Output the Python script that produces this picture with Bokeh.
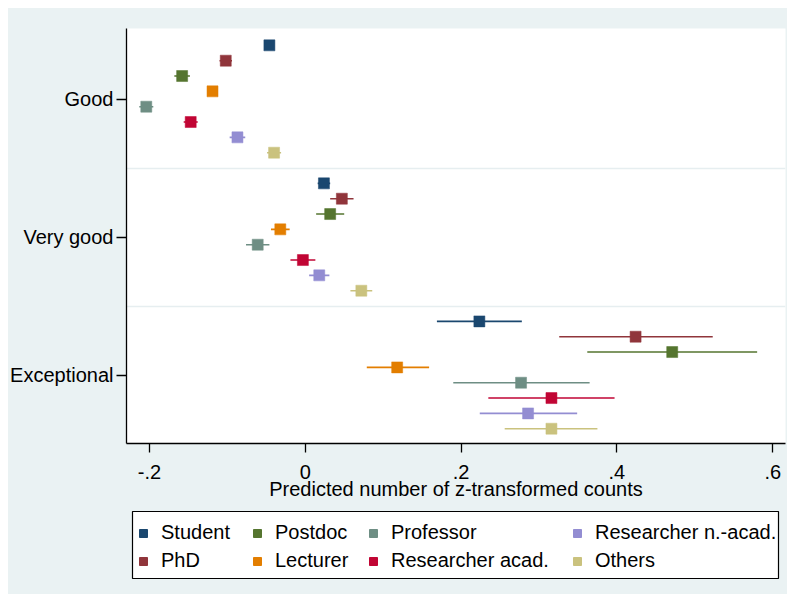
from bokeh.plotting import figure
from bokeh.layouts import column
from bokeh.models import Range1d, FixedTicker, Legend, LegendItem, ColumnDataSource
from bokeh.embed import file_html
from bokeh.resources import INLINE

groups = ["Good", "Very good", "Exceptional"]
occupations = ["Student", "PhD", "Postdoc", "Lecturer", "Professor",
               "Researcher acad.", "Researcher n.-acad.", "Others"]
colors = ["#1a476f", "#90353b", "#55752f", "#e37e00", "#6e8e84",
          "#c10534", "#938dd2", "#cac27e"]

# point estimates and CI bounds per rating group (order = occupations)
est_good = [-0.046, -0.102, -0.158, -0.119, -0.204, -0.147, -0.087, -0.040]
lo_good = [-0.051, -0.110, -0.168, -0.124, -0.213, -0.156, -0.097, -0.049]
hi_good = [-0.041, -0.094, -0.148, -0.114, -0.195, -0.138, -0.077, -0.031]

est_vgood = [0.024, 0.047, 0.032, -0.032, -0.061, -0.003, 0.018, 0.072]
lo_vgood = [0.016, 0.032, 0.014, -0.044, -0.076, -0.019, 0.005, 0.058]
hi_vgood = [0.032, 0.062, 0.050, -0.020, -0.046, 0.013, 0.031, 0.086]

est_exc = [0.2235, 0.424, 0.471, 0.118, 0.277, 0.316, 0.286, 0.316]
lo_exc = [0.169, 0.326, 0.362, 0.079, 0.190, 0.235, 0.224, 0.256]
hi_exc = [0.278, 0.523, 0.580, 0.159, 0.365, 0.397, 0.349, 0.375]

x_ticks = [-0.2, 0, 0.2, 0.4, 0.6]
x_tick_labels = ["-.2", "0", ".2", ".4", ".6"]

FONT = "Liberation Sans"
BG = "#eaf2f3"

# ---------------- main plot ----------------
p = figure(width=792, height=500, output_backend="svg", toolbar_location=None,
           x_range=Range1d(-0.2294, 0.6164), y_range=Range1d(2.496, -0.511),
           min_border_left=117, min_border_right=1, min_border_top=20,
           min_border_bottom=65)
p.background_fill_color = "white"
p.border_fill_color = BG
p.outline_line_color = None

ests = [est_good, est_vgood, est_exc]
los = [lo_good, lo_vgood, lo_exc]
his = [hi_good, hi_vgood, hi_exc]

for i, occ in enumerate(occupations):
    ys = [g + (i - 3.5) / 9.0 for g in range(len(groups))]
    src = ColumnDataSource(dict(
        y=ys,
        x=[ests[g][i] for g in range(3)],
        lo=[los[g][i] for g in range(3)],
        hi=[his[g][i] for g in range(3)],
    ))
    p.segment(x0="lo", x1="hi", y0="y", y1="y", source=src,
              line_color=colors[i], line_width=1.6)
    p.scatter(x="x", y="y", source=src, marker="square", size=11,
              fill_color=colors[i], line_color=colors[i], line_width=0.5)

p.xaxis.ticker = FixedTicker(ticks=x_ticks)
p.xaxis.major_label_overrides = {t: l for t, l in zip(x_ticks, x_tick_labels)}
p.xaxis.axis_label = "Predicted number of z-transformed counts"
p.yaxis.ticker = FixedTicker(ticks=[0, 1, 2])
p.yaxis.major_label_overrides = {i: g for i, g in enumerate(groups)}
p.yaxis.axis_label = None
p.yaxis.axis_label_standoff = 0

for ax in [p.xaxis[0], p.yaxis[0]]:
    ax.axis_line_color = "black"
    ax.axis_line_width = 1.3
    ax.major_tick_line_color = "black"
    ax.major_tick_line_width = 1.3
    ax.major_tick_in = 0
    ax.major_tick_out = 10
    ax.minor_tick_line_color = None
    ax.major_label_text_font = FONT
    ax.major_label_text_font_size = "20px"
    ax.major_label_text_color = "black"
    ax.axis_label_text_font = FONT
    ax.axis_label_text_font_size = "20px"
    ax.axis_label_text_font_style = "normal"
    ax.axis_label_text_color = "black"

p.xaxis.major_tick_out = 9
p.xaxis.major_label_standoff = 12
p.xaxis.axis_label_standoff = -4
p.yaxis.major_label_standoff = 3

p.xgrid.grid_line_color = None
p.ygrid.ticker = FixedTicker(ticks=[0.5, 1.5])
p.ygrid.grid_line_color = "#e6eef0"
p.ygrid.grid_line_width = 1.5

# ---------------- legend strip ----------------
pl = figure(width=779, height=86, output_backend="svg", toolbar_location=None,
            x_range=Range1d(0, 1), y_range=Range1d(0, 1),
            min_border_left=124, min_border_right=9, min_border_top=3,
            min_border_bottom=16, x_axis_location=None, y_axis_location=None)
pl.margin = (0, 0, 0, 6)
pl.background_fill_color = "white"
pl.border_fill_color = BG
pl.outline_line_color = "black"
pl.outline_line_width = 1.2
pl.grid.grid_line_color = None

proxies = []
for i, occ in enumerate(occupations):
    r = pl.scatter(x=[-5], y=[-5], marker="square", size=8,
                   fill_color=colors[i], line_color=colors[i])
    proxies.append(r)

col_x = [1, 115, 231, 435]
for c in range(4):
    items = [LegendItem(label=occupations[2 * c + k], renderers=[proxies[2 * c + k]])
             for k in range(2)]
    lg = Legend(items=items, location=(col_x[c], 6), orientation="vertical")
    lg.label_text_font = FONT
    lg.label_text_font_size = "20px"
    lg.label_text_color = "black"
    lg.border_line_color = None
    lg.background_fill_alpha = 0
    lg.glyph_width = 20
    lg.glyph_height = 20
    lg.label_height = 23
    lg.label_standoff = 8
    lg.spacing = 5
    lg.padding = 0
    lg.margin = 0
    pl.add_layout(lg, "center")

layout = column(p, pl, spacing=0,
                styles={"background-color": BG,
                        "clip-path": "inset(0px 7px 0px 6px)"})
layout.margin = (8, 1, 8, 2)

open("out.html", "w").write(file_html(layout, INLINE))
